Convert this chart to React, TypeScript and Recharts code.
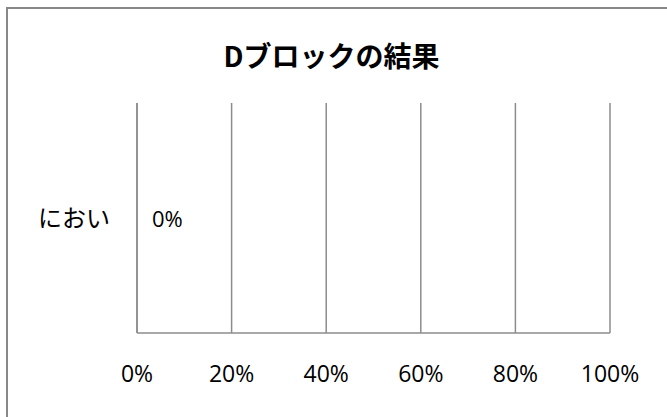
import { BarChart, Bar, XAxis, YAxis, CartesianGrid, LabelList } from 'recharts';

const categories = ['におい'];
const values = [0];
const xTicks = [0, 0.2, 0.4, 0.6, 0.8, 1];

const GRID = '#8c8c8c';
const FONT = '"Open Sans", "Noto Sans CJK JP", sans-serif';

const pct = (v: number) => `${Math.round(v * 100)}%`;

const renderValueLabel = (props: any) => {
  const { x, y, width, height, value } = props;
  return (
    <text
      x={Number(x) + Number(width) + 15}
      y={Number(y) + Number(height) / 2}
      dominantBaseline="central"
      fill="#000"
      style={{ fontSize: 22, fontFamily: FONT }}
    >
      {pct(Number(value))}
    </text>
  );
};

export default function App() {
  const data = categories.map((name, i) => ({ name, value: values[i] }));

  return (
    <div style={{ position: 'absolute', left: 0, top: 0, width: 667, height: 417, overflow: 'hidden', background: '#fff' }}>
      <div
        style={{
          position: 'absolute', left: 6, top: 7, width: 720, height: 480,
          border: '2px solid #888', boxSizing: 'border-box',
        }}
      />
      <div
        style={{
          position: 'absolute', left: 0, top: 35, width: 667, textAlign: 'center',
          fontFamily: '"Noto Sans CJK JP", sans-serif', fontWeight: 700, fontSize: 28,
          color: '#000', lineHeight: '40px',
        }}
      >
        <span style={{ position: 'relative', left: -2 }}>Dブロックの結果</span>
      </div>
      <BarChart
        width={667}
        height={417}
        data={data}
        layout="vertical"
        margin={{ top: 103, right: 57, bottom: 44, left: 57 }}
        style={{ position: 'absolute', left: 0, top: 0 }}
      >
        <CartesianGrid horizontal={false} stroke={GRID} strokeWidth={1.5} />
        <XAxis
          type="number"
          domain={[0, 1]}
          ticks={xTicks}
          tickFormatter={pct}
          height={40}
          axisLine={{ stroke: GRID, strokeWidth: 1.5 }}
          tickLine={false}
          tickSize={0}
          tickMargin={33}
          tick={{ fill: '#000', fontSize: 23, fontFamily: FONT }}
          interval={0}
        />
        <YAxis
          type="category"
          dataKey="name"
          width={80}
          axisLine={{ stroke: GRID, strokeWidth: 1.5 }}
          tickLine={false}
          tickSize={0}
          tickMargin={27}
          tick={{ fill: '#000', fontSize: 24, fontFamily: FONT }}
        />
        <Bar dataKey="value" fill="#4f81bd" fillOpacity={0} minPointSize={0.01} isAnimationActive={false}>
          <LabelList dataKey="value" content={renderValueLabel} />
        </Bar>
      </BarChart>
    </div>
  );
}
